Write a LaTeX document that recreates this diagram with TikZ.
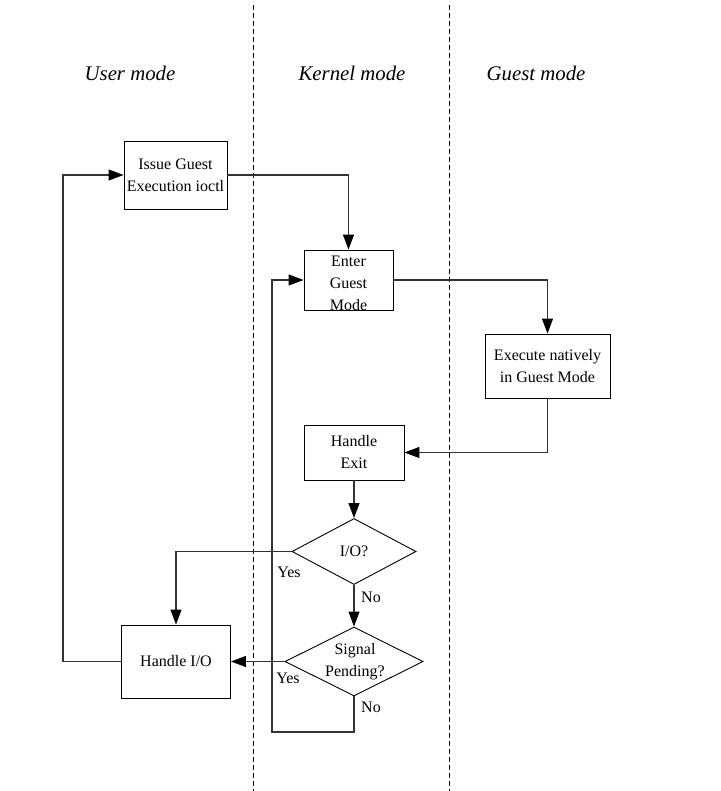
\documentclass[tikz,border=0pt]{standalone}
\usepackage{fontspec}
\setmainfont{Liberation Serif}
\usetikzlibrary{arrows.meta,shapes.geometric}
\begin{document}
\begin{tikzpicture}[x=0.5pt,y=-0.5pt,
  txt/.style={font=\fontsize{8}{11}\selectfont, align=center, inner sep=0pt},
  boxst/.style={txt, draw=black, line width=0.45pt},
  dia/.style={diamond, draw=black, line width=0.45pt, inner sep=0pt},
  conn/.style={draw=black!80, line width=0.55pt, -{Triangle[length=7.5pt,width=5.5pt,fill=black,color=black]}},
  lane/.style={draw=black, line width=0.5pt, dash pattern=on 2.5pt off 1.5pt},
  head/.style={font=\fontsize{10.4}{12}\selectfont\itshape, inner sep=0pt},
  lbl/.style={font=\fontsize{8}{11}\selectfont, inner sep=0pt}]
\useasboundingbox (0,0) rectangle (720,791);
% lanes
\draw[lane] (253,5) -- (253,791);
\draw[lane] (449,5) -- (449,791);
% headers
\node[head] (hu) at (130,73) {User mode};
\node[head] (hk) at (352,73) {Kernel mode};
\node[head] (hg) at (536,73) {Guest mode};
% boxes
\node[boxst, minimum width=51.5pt, minimum height=34pt] (issue) at (175.5,175) {Issue Guest\\Execution ioctl};
\node[boxst, minimum width=44.5pt, minimum height=30pt] (enter) at (348.5,280) {};
\node[txt] (entert) at (348.5,283) {Enter\\Guest\\Mode};
\node[boxst, minimum width=62.5pt, minimum height=32pt] (exec) at (547.5,366) {Execute natively\\in Guest Mode};
\node[boxst, minimum width=50pt, minimum height=27.5pt] (exit) at (354,452.5) {Handle\\Exit};
\node[dia, minimum width=62pt, minimum height=33pt] (io) at (354,551.5) {};
\node[txt] (iot) at (io) {I/O?};
\node[dia, minimum width=69pt, minimum height=34.5pt] (sig) at (354,661.5) {};
\node[txt] (sigt) at (355,662) {Signal\\Pending?};
\node[boxst, minimum width=54.5pt, minimum height=36.5pt] (hio) at (176,661.5) {Handle I/O};
% helper coordinates
\coordinate (lx) at (63,0);
\coordinate (lb) at (272,732);
% connectors
\draw[conn] (issue.east) -| (enter.north);
\draw[conn] (hio.west) -- (hio.west -| lx) |- (issue.west);
\draw[conn] (enter.east) -| (exec.north);
\draw[conn] (exec.south) |- (exit.east);
\draw[conn] (exit.south) -- (io.north);
\draw[conn] (io.west) -| (hio.north);
\draw[conn] (io.south) -- (sig.north);
\draw[conn] (sig.west) -- (hio.east);
\draw[conn] (sig.south) |- (lb) |- (enter.west);
% labels
\node[lbl] (y1) at (289,572) {Yes};
\node[lbl] (n1) at (371,597) {No};
\node[lbl] (y2) at (288,678) {Yes};
\node[lbl] (n2) at (371,707) {No};
\end{tikzpicture}
\end{document}
